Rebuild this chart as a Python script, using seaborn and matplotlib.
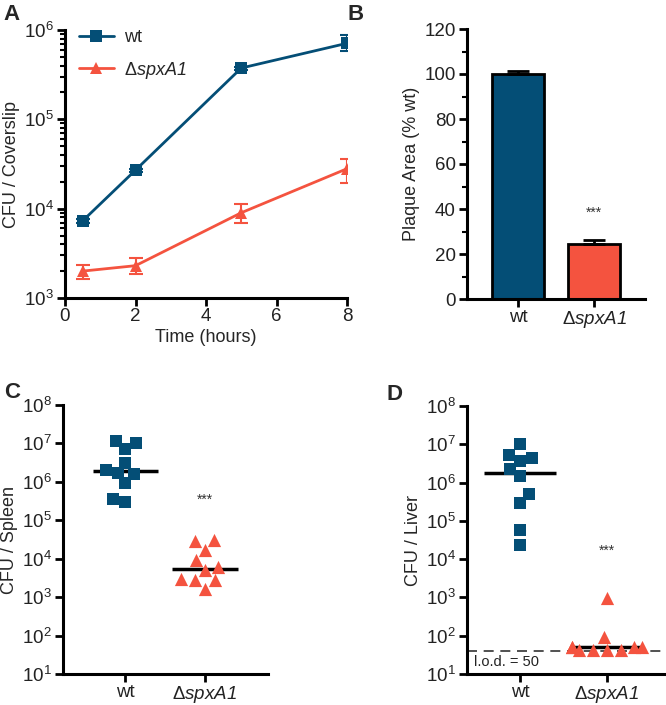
import numpy as np
import pandas as pd
import matplotlib
matplotlib.use("Agg")
import matplotlib.pyplot as plt
from matplotlib.ticker import LogLocator, NullLocator, MultipleLocator
from matplotlib.lines import Line2D
import seaborn as sns

# ---------------- data ----------------
# Panel A: CFU / coverslip over time
time_h = [0.5, 2, 5, 8]
wt_cfu = [7.3e3, 2.7e4, 3.75e5, 7.1e5]
wt_lo = [7.0e3, 2.6e4, 3.6e5, 5.8e5]
wt_hi = [7.6e3, 2.8e4, 3.9e5, 8.7e5]
spx_cfu = [2.0e3, 2.3e3, 9.0e3, 2.8e4]
spx_lo = [1.65e3, 1.88e3, 7.0e3, 1.95e4]
spx_hi = [2.35e3, 2.8e3, 1.12e4, 3.6e4]

# Panel B: plaque area
strains = ["wt", "ΔspxA1"]
plaque_mean = [100.0, 24.5]
plaque_err = [1.3, 1.8]

# Panel C: CFU / spleen
spleen_wt = [1.15e7, 1.04e7, 7.0e6, 3.16e6, 2.04e6, 1.7e6, 1.58e6, 9.6e5, 3.6e5, 3.0e5]
spleen_spx = [3.1e4, 2.9e4, 1.67e4, 9.1e3, 6.1e3, 5.0e3, 2.9e3, 2.75e3, 2.75e3, 1.6e3]

# Panel D: CFU / liver
liver_wt = [1.0e7, 5.2e6, 4.5e6, 3.6e6, 2.25e6, 1.49e6, 4.9e5, 2.9e5, 5.6e4, 2.4e4]
liver_spx = [9.5e2, 9.4e1, 50, 50, 50, 50, 43, 43, 43, 43]
lod_line = 40

blue = "#044E76"
red = "#F4533F"

# ---------------- style ----------------
sns.set_theme(style="ticks")
plt.rcParams["font.family"] = ["Liberation Sans", "DejaVu Sans"]
plt.rcParams["mathtext.fontset"] = "custom"
plt.rcParams["mathtext.rm"] = "Liberation Sans"
plt.rcParams["mathtext.it"] = "Liberation Sans:italic"
plt.rcParams["mathtext.default"] = "regular"

FS = 13
TFS = 13.5
spx_label = "$\\mathrm{Δ}$spxA1"   # rendered with italic text style, upright Δ

fig = plt.figure(figsize=(6.66, 7.05), dpi=100)
W, H = 666, 705


def add_ax(left, right, top, bottom):
    return fig.add_axes([left / W, 1 - bottom / H, (right - left) / W, (bottom - top) / H])


def style_ax(ax):
    sns.despine(ax=ax)
    for s in ["left", "bottom"]:
        ax.spines[s].set_linewidth(2.2)
        ax.spines[s].set_color("black")
    ax.tick_params(axis="both", which="major", length=6, width=2, color="black",
                   labelsize=TFS, labelcolor="#222222", pad=2)
    ax.tick_params(axis="x", which="major", pad=1)
    ax.tick_params(axis="both", which="minor", length=3.5, width=1.5, color="black")
    ax.set_facecolor("white")


def italic_second_xlabel(ax):
    labels = ax.get_xticklabels()
    if len(labels) > 1:
        labels[1].set_fontstyle("italic")


# ---------------- Panel A ----------------
axA = add_ax(65, 347, 30, 298)
dfA = pd.DataFrame({
    "time": time_h * 2,
    "cfu": wt_cfu + spx_cfu,
    "strain": ["wt"] * 4 + ["spx"] * 4,
})
for vals, lo, hi, c in [(wt_cfu, wt_lo, wt_hi, blue), (spx_cfu, spx_lo, spx_hi, red)]:
    v = np.array(vals)
    axA.errorbar(time_h, v, yerr=[v - np.array(lo), np.array(hi) - v], fmt="none",
                 ecolor=c, elinewidth=1.5, capsize=5, capthick=1.5, zorder=1)
sns.lineplot(data=dfA, x="time", y="cfu", hue="strain", style="strain",
             palette={"wt": blue, "spx": red}, markers={"wt": "s", "spx": "^"},
             dashes=False, markersize=9, linewidth=2, markeredgewidth=0,
             legend=False, ax=axA, zorder=3)
axA.set_yscale("log")
axA.set_ylim(1e3, 1e6)
axA.set_xlim(0, 8)
axA.xaxis.set_major_locator(MultipleLocator(2))
axA.yaxis.set_major_locator(LogLocator(base=10, numticks=10))
axA.yaxis.set_minor_locator(LogLocator(base=10, subs=np.arange(2, 10), numticks=10))
axA.set_xlabel("Time (hours)", fontsize=FS, labelpad=3)
axA.set_ylabel("CFU / Coverslip", fontsize=FS, labelpad=3)
style_ax(axA)
handles = [
    Line2D([0], [0], color=blue, lw=2, marker="s", markersize=9, markeredgewidth=0),
    Line2D([0], [0], color=red, lw=2, marker="^", markersize=9, markeredgewidth=0),
]
leg = axA.legend(handles, ["wt", spx_label], loc="upper left", frameon=False,
                 fontsize=FS, handlelength=1.9, handletextpad=0.6, borderaxespad=0.0,
                 bbox_to_anchor=(0.025, 1.03), labelspacing=0.75)
leg.get_texts()[1].set_fontstyle("italic")

# ---------------- Panel B ----------------
axB = add_ax(467, 645, 29, 299)
dfB = pd.DataFrame({"strain": strains, "area": plaque_mean})
sns.barplot(data=dfB, x="strain", y="area", hue="strain", palette=[blue, red],
            saturation=1, width=0.68, edgecolor="black", linewidth=2, legend=False,
            ax=axB)
pos = np.arange(len(strains))
axB.errorbar(pos, plaque_mean, yerr=[np.zeros(2), plaque_err], fmt="none",
             ecolor="black", elinewidth=2, capsize=8, capthick=2)
axB.set_ylim(0, 120)
axB.set_xlim(-0.67, 1.67)
axB.yaxis.set_major_locator(MultipleLocator(20))
axB.yaxis.set_minor_locator(MultipleLocator(10))
axB.set_xticks(pos)
axB.set_xticklabels(["wt", spx_label])
axB.set_xlabel("")
axB.set_ylabel("Plaque Area (% wt)", fontsize=FS, labelpad=3)
style_ax(axB)
italic_second_xlabel(axB)
axB.text(1, 38.5, "***", ha="center", va="center", fontsize=10, color="#333333")


# ---------------- Panels C & D ----------------
def scatter_panel(ax, wt_vals, spx_vals, ylabel, star_y, xlim):
    df = pd.DataFrame({
        "strain": ["wt"] * len(wt_vals) + [spx_label] * len(spx_vals),
        "cfu": wt_vals + spx_vals,
    })
    df["logcfu"] = np.log10(df["cfu"])
    order = ["wt", spx_label]
    sns.swarmplot(data=df[df.strain == "wt"], x="strain", y="logcfu", order=order,
                  color=blue, marker="s", size=8.6, linewidth=0, ax=ax)
    sns.swarmplot(data=df[df.strain == spx_label], x="strain", y="logcfu", order=order,
                  color=red, marker="^", size=9.5, linewidth=0, ax=ax)
    sns.boxplot(data=df, x="strain", y="logcfu", order=order, showbox=False,
                showcaps=False, showfliers=False, whis=0, width=0.82,
                whiskerprops={"visible": False},
                medianprops={"color": "black", "linewidth": 2.5}, ax=ax)
    ax.set_ylim(1, 8)
    ax.set_xlim(*xlim)
    ax.set_yticks(range(1, 9))
    ax.set_yticklabels([f"$10^{{{k}}}$" for k in range(1, 9)])
    ax.set_xticks([0, 1])
    ax.set_xticklabels(order)
    ax.set_xlabel("")
    ax.set_ylabel(ylabel, fontsize=FS, labelpad=3)
    ax.yaxis.set_minor_locator(NullLocator())
    style_ax(ax)
    italic_second_xlabel(ax)
    ax.text(1, np.log10(star_y), "***", ha="center", va="center", fontsize=10,
            color="#333333")


axC = add_ax(63, 268, 405, 674)
scatter_panel(axC, spleen_wt, spleen_spx, "CFU / Spleen", 3.4e5, (-0.78, 1.79))

axD = add_ax(467, 665, 406, 674)
scatter_panel(axD, liver_wt, liver_spx, "CFU / Liver", 1.7e4, (-0.61, 1.67))
axD.axhline(np.log10(lod_line), color="#333333", lw=1.2, ls=(0, (6, 4)), zorder=0)
axD.text(0.035, 0.045, "l.o.d. = 50", transform=axD.transAxes, fontsize=10.5,
         ha="left", va="center", color="#222222")

# panel letters
for letter, x, y in [("A", 12, 15), ("B", 356, 15), ("C", 12, 393), ("D", 395, 395)]:
    fig.text(x / W, 1 - y / H, letter, fontsize=16, fontweight="bold",
             ha="center", va="center")

fig.savefig("out.png", dpi=100, facecolor="white")
